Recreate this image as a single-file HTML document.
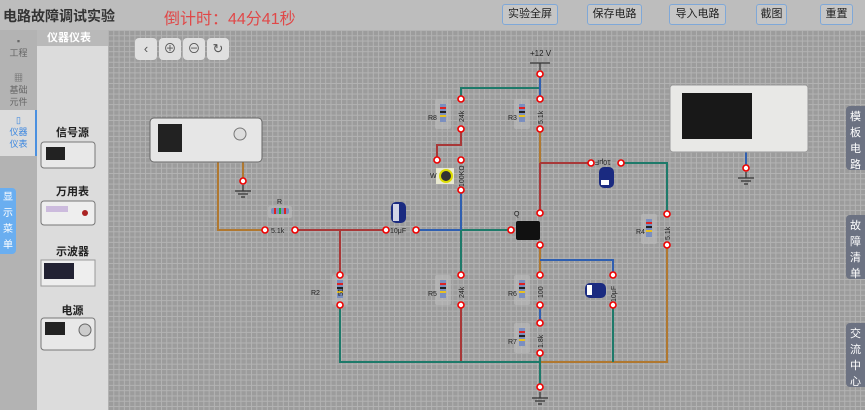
<!DOCTYPE html>
<html><head><meta charset="utf-8"><style>
*{margin:0;padding:0;box-sizing:border-box}
body{width:865px;height:410px;overflow:hidden;font-family:"Liberation Sans","Noto Sans CJK SC",sans-serif;background:#a0a0a0;position:relative}
.top{position:absolute;left:0;top:0;width:865px;height:30px;background:#bdbdbd}
.title{position:absolute;left:3px;top:6px;font-size:14px;font-weight:bold;color:#333}
.timer{position:absolute;left:164px;top:5px;font-size:16px;color:#e04848}
.btn{position:absolute;top:4px;height:21px;border:1px solid #7fa8d8;border-radius:3px;font-size:11px;color:#222;text-align:center;line-height:19px;background:#c6c6c6}
.side{position:absolute;left:0;top:30px;width:37px;height:380px;background:#b3b3b3}
.panel{position:absolute;left:37px;top:30px;width:71px;height:380px;background:#dcdcdc}
.ph{position:absolute;left:37px;top:30px;width:71px;height:16px;background:#b9b9b9;color:#fff;font-size:11px;font-weight:bold;padding-left:10px;line-height:16px}
.canvas{position:absolute;left:108px;top:30px;width:757px;height:380px;background-color:#9c9c9c;background-image:linear-gradient(#b3b3b3 1px,transparent 1px),linear-gradient(90deg,#b3b3b3 1px,transparent 1px);background-size:5.3px 5.3px}
.st{position:absolute;font-size:9px;color:#666;text-align:center;width:37px;line-height:12px}
.lab{position:absolute;font-size:11px;font-weight:bold;color:#222;width:71px;text-align:center;left:37px}
.rt{position:absolute;left:846px;width:19px;background:#6c7282;color:#fff;font-size:11px;text-align:center;border-radius:4px 0 0 4px;line-height:16px;padding-top:3px}
.tb{position:absolute;top:38px;width:22px;height:22px;background:#e0e0e0;border-radius:4px;color:#555;font-size:13px;text-align:center;line-height:22px}
</style></head><body>
<div class="top"></div>
<div class="title">电路故障调试实验</div>
<div class="timer">倒计时：44分41秒</div>
<div class="btn" style="left:502px;width:56px">实验全屏</div>
<div class="btn" style="left:587px;width:55px">保存电路</div>
<div class="btn" style="left:669px;width:57px">导入电路</div>
<div class="btn" style="left:756px;width:31px">截图</div>
<div class="btn" style="left:820px;width:33px">重置</div>
<div class="side"></div>
<div class="st" style="left:0;top:35px">▪<br>工程</div>
<div class="st" style="left:0;top:72px">▦<br>基础<br>元件</div>
<div style="position:absolute;left:0;top:110px;width:37px;height:46px;background:#dcdcdc;border-right:2px solid #4a90e0"></div>
<div class="st" style="left:0;top:114px;color:#3a86e0">▯<br>仪器<br>仪表</div>
<div style="position:absolute;left:0;top:188px;width:16px;height:66px;background:#6aaef0;border-radius:0 4px 4px 0;color:#fff;font-size:10px;line-height:16px;text-align:center;padding-top:2px">显示菜单</div>
<div class="panel"></div>
<div class="ph">仪器仪表</div>
<div class="lab" style="top:124px">信号源</div>
<div class="lab" style="top:183px">万用表</div>
<div class="lab" style="top:243px">示波器</div>
<div class="lab" style="top:302px">电源</div>
<svg style="position:absolute;left:37px;top:0" width="71" height="410">
<rect x="4" y="142" width="54" height="26" rx="3" fill="#e8e8e8" stroke="#777"/><rect x="9" y="147" width="19" height="13" fill="#222"/>
<rect x="4" y="201" width="54" height="24" rx="3" fill="#eee" stroke="#777"/><rect x="9" y="206" width="22" height="6" fill="#cbd"/><circle cx="48" cy="213" r="3" fill="#a22"/>
<rect x="4" y="260" width="54" height="26" fill="#eee" stroke="#999"/><rect x="7" y="263" width="30" height="16" fill="#223"/>
<rect x="4" y="318" width="54" height="32" rx="3" fill="#e8e8e8" stroke="#777"/><rect x="8" y="322" width="20" height="13" fill="#222"/><circle cx="48" cy="330" r="6" fill="#ccc" stroke="#666"/>
</svg>
<div class="canvas"></div>
<div class="tb" style="left:135px">‹</div>
<div class="tb" style="left:159px">⊕</div>
<div class="tb" style="left:183px">⊖</div>
<div class="tb" style="left:207px">↻</div>
<div class="rt" style="top:106px;height:64px">模板电路</div>
<div class="rt" style="top:215px;height:64px">故障清单</div>
<div class="rt" style="top:323px;height:64px">交流中心</div>
<svg style="position:absolute;left:0;top:0" width="865" height="410" font-family="Liberation Sans" font-size="7">
<defs>
<g id="rv"><rect x="-8" y="0" width="16" height="30" rx="2" fill="#bcbcbc" opacity=".6"/><rect x="-3" y="5" width="6" height="18" fill="#7b8fc0"/><rect x="-3" y="8" width="6" height="2" fill="#d22"/><rect x="-3" y="12" width="6" height="2" fill="#222"/><rect x="-3" y="16" width="6" height="2" fill="#e8c020"/></g>
</defs>
<g fill="none" stroke-width="2">
<path d="M218 155V230H265" stroke="#b07830"/>
<path d="M243 155V181" stroke="#b07830"/>
<path d="M295 230H386" stroke="#a83838"/>
<path d="M340 230V275" stroke="#a83838"/>
<path d="M416 230H461" stroke="#2f5fb0"/>
<path d="M461 230H511" stroke="#1e7a6a"/>
<path d="M461 190V230" stroke="#2f5fb0"/>
<path d="M461 230V275" stroke="#1e7a6a"/>
<path d="M461 305V362" stroke="#a83838"/>
<path d="M340 305V362H540" stroke="#1e7a6a"/>
<path d="M540 362H667V245" stroke="#b07830"/>
<path d="M461 99V88H540" stroke="#1e7a6a"/>
<path d="M540 74V99" stroke="#2f5fb0"/>
<path d="M461 129V145H437V160" stroke="#a83838"/>
<path d="M540 129V163" stroke="#b07830"/>
<path d="M540 163V213M540 163H591" stroke="#a83838"/>
<path d="M621 163H667V214" stroke="#1e7a6a"/>
<path d="M540 245V275" stroke="#b07830"/>
<path d="M540 260H613V275" stroke="#2f5fb0"/>
<path d="M613 305V362" stroke="#1e7a6a"/>
<path d="M540 305V323" stroke="#2f5fb0"/>
<path d="M540 353V387" stroke="#1e7a6a"/>
<path d="M746 140V168" stroke="#2f5fb0"/>
</g>
<g stroke="#333" stroke-width="1.2">
<path d="M530 63H550M540 63V70"/>
<path d="M540 392V398M532 398H548M535 401H545M538 404H542"/>
<path d="M243 185V191M235 191H251M238 194H248M241 197H245"/>
<path d="M746 172V178M738 178H754M741 181H751M744 184H748"/>
</g>
<text x="530" y="56" fill="#222" font-size="8">+12 V</text>
<g>
<rect x="268" y="206" width="24" height="12" rx="2" fill="#bcbcbc" opacity=".6"/>
<rect x="271" y="208" width="18" height="6" rx="2" fill="#7b8fc0"/><rect x="274" y="208" width="2" height="6" fill="#d22"/><rect x="279" y="208" width="2" height="6" fill="#2a2"/><rect x="284" y="208" width="2" height="6" fill="#d22"/>
<text x="277" y="204" fill="#222">R</text><text x="271" y="233" fill="#222">5.1k</text>
<use href="#rv" x="340" y="275"/><text x="311" y="295" fill="#222">R2</text>
<use href="#rv" x="443" y="99"/><text x="428" y="120" fill="#222">R8</text>
<use href="#rv" x="522" y="99"/><text x="508" y="120" fill="#222">R3</text>
<use href="#rv" x="443" y="275"/><text x="428" y="296" fill="#222">R5</text>
<use href="#rv" x="522" y="275"/><text x="508" y="296" fill="#222">R6</text>
<use href="#rv" x="522" y="323"/><text x="508" y="344" fill="#222">R7</text>
<use href="#rv" x="649" y="214"/><text x="636" y="234" fill="#222">R4</text>
<g fill="#222">
<text transform="translate(464,122) rotate(-90)">24k</text>
<text transform="translate(543,124) rotate(-90)">5.1k</text>
<text transform="translate(343,296) rotate(-90)">51</text>
<text transform="translate(464,298) rotate(-90)">24k</text>
<text transform="translate(543,298) rotate(-90)">100</text>
<text transform="translate(543,348) rotate(-90)">1.8k</text>
<text transform="translate(670,240) rotate(-90)">5.1k</text>
<text transform="translate(464,187) rotate(-90)">100KΩ</text>
<text transform="translate(616,302) rotate(-90)">10μF</text>
<text transform="translate(611,160) rotate(180)">10μF</text>
</g>
<rect x="436" y="168" width="18" height="16" fill="#e8e8d0"/><circle cx="446" cy="176" r="6" fill="#333" stroke="#dd0" stroke-width="2"/>
<text x="430" y="178" fill="#222">W</text>
<rect x="391" y="202" width="15" height="21" rx="5" fill="#1a2a80"/><rect x="393" y="204" width="6" height="17" fill="#fff" opacity=".8"/>
<rect x="599" y="167" width="15" height="21" rx="5" fill="#1a2a80"/><rect x="601" y="180" width="8" height="5" fill="#fff"/>
<rect x="585" y="283" width="21" height="15" rx="5" fill="#1a2a80"/><rect x="587" y="285" width="5" height="10" fill="#fff"/>
<text x="390" y="233" fill="#222">10μF</text>
<rect x="516" y="221" width="24" height="19" rx="2" fill="#111"/><text x="514" y="216" fill="#222">Q</text>
<rect x="150" y="118" width="112" height="44" rx="4" fill="#e6e6e6" stroke="#666"/><rect x="158" y="124" width="24" height="28" fill="#222"/><circle cx="240" cy="134" r="6" fill="#ddd" stroke="#777"/>
<rect x="670" y="85" width="138" height="67" rx="3" fill="#e8e8e6" stroke="#999"/><rect x="682" y="93" width="70" height="46" fill="#181818"/>
</g>
<g fill="#fff" stroke="#e00" stroke-width="1.6">
<circle cx="540" cy="74" r="3"/><circle cx="461" cy="99" r="3"/><circle cx="540" cy="99" r="3"/>
<circle cx="461" cy="129" r="3"/><circle cx="540" cy="129" r="3"/><circle cx="437" cy="160" r="3"/><circle cx="461" cy="160" r="3"/><circle cx="461" cy="190" r="3"/>
<circle cx="591" cy="163" r="3"/><circle cx="621" cy="163" r="3"/><circle cx="540" cy="213" r="3"/><circle cx="511" cy="230" r="3"/><circle cx="540" cy="245" r="3"/>
<circle cx="667" cy="214" r="3"/><circle cx="667" cy="245" r="3"/><circle cx="265" cy="230" r="3"/><circle cx="295" cy="230" r="3"/>
<circle cx="386" cy="230" r="3"/><circle cx="416" cy="230" r="3"/><circle cx="340" cy="275" r="3"/><circle cx="340" cy="305" r="3"/>
<circle cx="461" cy="275" r="3"/><circle cx="461" cy="305" r="3"/><circle cx="540" cy="275" r="3"/><circle cx="540" cy="305" r="3"/>
<circle cx="613" cy="275" r="3"/><circle cx="613" cy="305" r="3"/><circle cx="540" cy="323" r="3"/><circle cx="540" cy="353" r="3"/>
<circle cx="540" cy="387" r="3"/><circle cx="243" cy="181" r="3"/><circle cx="746" cy="168" r="3"/>
</g>
</svg>
</body></html>
